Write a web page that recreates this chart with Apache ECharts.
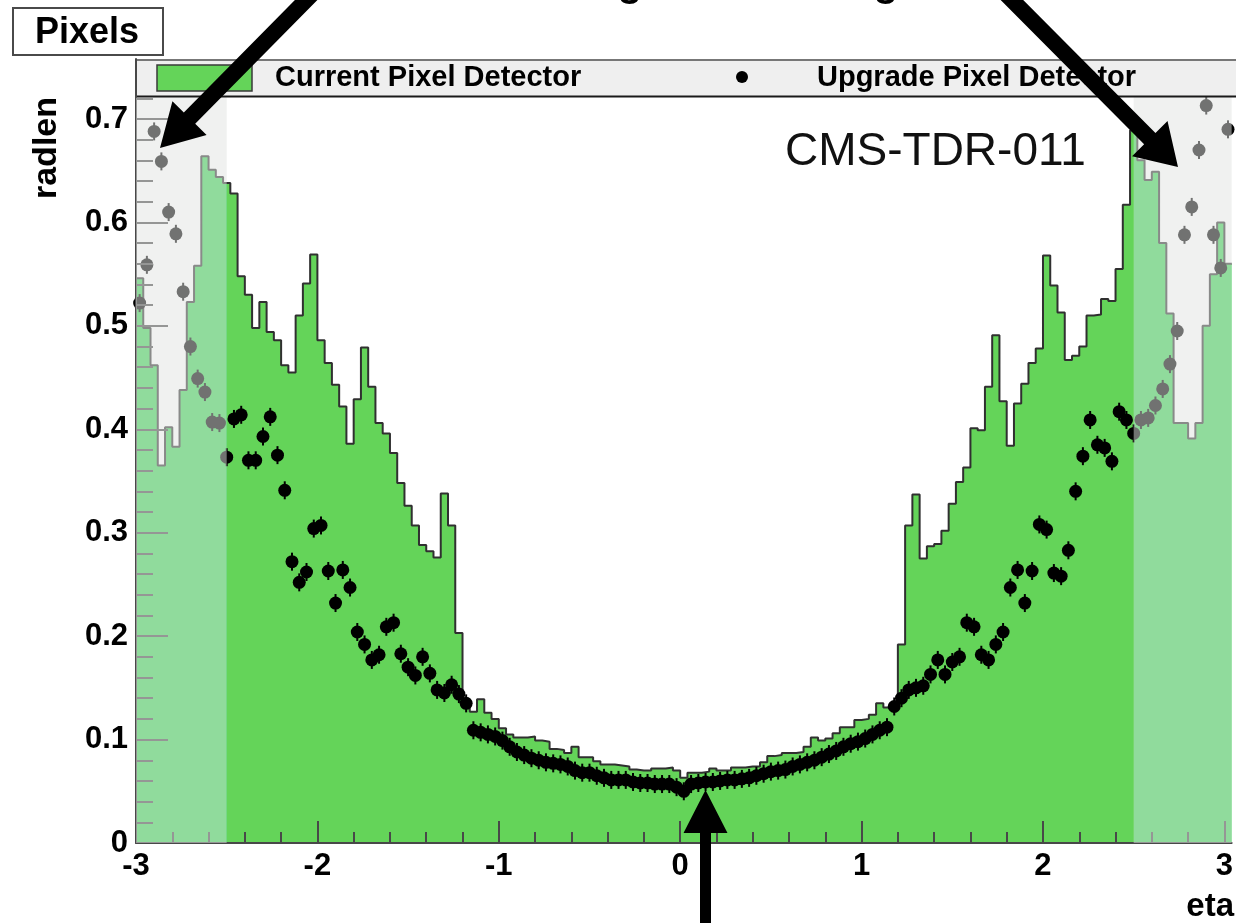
<!DOCTYPE html>
<html>
<head>
<meta charset="utf-8">
<script src="https://cdn.jsdelivr.net/npm/echarts@6/dist/echarts.min.js"></script>
<style>
  html, body { margin: 0; padding: 0; background: #ffffff; }
  #chart { width: 1236px; height: 923px; }
</style>
</head>
<body>
<div id="chart"></div>
<script>
// Material budget of the pixel detector in radiation lengths, binned in eta.
const BIN_LO = -3.0;     // lower edge of the first bin
const BIN_W = 0.04;      // bin width in eta

// Current pixel detector: radiation length per eta bin
const currentRadlen = [
  0.546,0.498,0.462,0.365,0.402,0.383,0.438,0.523,0.558,0.664,
  0.651,0.644,0.638,0.628,0.548,0.530,0.498,0.523,0.494,0.486,
  0.462,0.455,0.510,0.541,0.569,0.486,0.464,0.443,0.422,0.386,
  0.429,0.479,0.441,0.406,0.396,0.377,0.348,0.326,0.307,0.288,
  0.282,0.276,0.338,0.307,0.203,0.131,0.127,0.139,0.126,0.120,
  0.111,0.105,0.102,0.102,0.103,0.099,0.098,0.091,0.090,0.087,
  0.093,0.083,0.083,0.079,0.076,0.076,0.075,0.074,0.071,0.070,
  0.070,0.072,0.072,0.073,0.070,0.063,0.068,0.068,0.069,0.072,
  0.070,0.070,0.073,0.073,0.074,0.074,0.078,0.084,0.085,0.087,
  0.087,0.088,0.093,0.102,0.099,0.101,0.106,0.112,0.112,0.119,
  0.120,0.124,0.135,0.131,0.131,0.192,0.307,0.337,0.275,0.287,
  0.289,0.302,0.328,0.349,0.363,0.401,0.399,0.441,0.491,0.427,
  0.384,0.425,0.444,0.464,0.478,0.568,0.539,0.513,0.467,0.471,
  0.480,0.510,0.511,0.526,0.524,0.555,0.617,0.689,0.660,0.641,
  0.649,0.580,0.512,0.406,0.406,0.391,0.406,0.500,0.550,0.600,
  0.560
];

// Upgrade pixel detector: radiation length per eta bin (bin centres)
const upgradeRadlen = [
  0.522,0.559,0.688,0.659,0.610,0.589,0.533,0.480,0.449,0.436,
  0.407,0.406,0.373,0.410,0.414,0.370,0.370,0.393,0.412,0.375,
  0.341,0.272,0.252,0.262,0.304,0.307,0.263,0.232,0.264,0.247,
  0.204,0.192,0.177,0.182,0.209,0.213,0.183,0.170,0.162,0.180,
  0.164,0.148,0.145,0.153,0.144,0.135,0.109,0.107,0.105,0.103,
  0.099,0.093,0.088,0.085,0.082,0.080,0.078,0.077,0.076,0.074,
  0.070,0.068,0.068,0.065,0.063,0.061,0.061,0.061,0.059,0.058,
  0.058,0.057,0.057,0.057,0.054,0.050,0.057,0.058,0.059,0.059,
  0.060,0.061,0.061,0.062,0.063,0.065,0.067,0.069,0.070,0.071,
  0.074,0.076,0.078,0.080,0.083,0.086,0.089,0.093,0.096,0.098,
  0.101,0.105,0.109,0.112,0.132,0.140,0.148,0.150,0.152,0.163,
  0.177,0.163,0.175,0.180,0.213,0.209,0.182,0.177,0.192,0.204,
  0.247,0.264,0.232,0.263,0.308,0.303,0.261,0.258,0.283,0.340,
  0.374,0.409,0.385,0.382,0.369,0.417,0.409,0.396,0.409,0.411,
  0.423,0.439,0.463,0.495,0.588,0.615,0.670,0.713,0.588,0.556,
  0.690
];

// Axis ranges and tick labels
const ETA_MIN = -3, ETA_MAX = 3.04;
const RAD_MIN = 0, RAD_MAX = 0.758;
const etaTicks = [-3, -2, -1, 0, 1, 2, 3];
const radTicks = [0, 0.1, 0.2, 0.3, 0.4, 0.5, 0.6, 0.7];

// Regions outside the coverage of the current detector (shaded)
const shadedEta = [[-3, -2.5], [2.5, 3.04]];

const FONT = "'Liberation Sans', Arial, Helvetica, sans-serif";
const GREEN = '#64d459';
const GREEN_FWD = 'rgb(62,211,86)';   // fill under the veil in the forward regions
const AXIS_COL = '#484848';

// minor tick positions between the labelled ticks
function minorTicks(lo, hi, step, majorStep) {
  const out = [];
  const n = Math.round((hi - lo) / step);
  for (let i = 0; i <= n; i++) {
    const v = +(lo + i * step).toFixed(4);
    const r = v / majorStep;
    if (Math.abs(r - Math.round(r)) > 1e-6) out.push(v);
  }
  return out;
}
const etaMinor = minorTicks(-3, 3, 0.2, 1);
const radMinor = minorTicks(0, 0.74, 0.02, 0.1);

// histogram as a step line through the bin edges
const histPoints = currentRadlen.map((v, k) => [+(BIN_LO + k * BIN_W).toFixed(4), v]);
histPoints.push([+(BIN_LO + currentRadlen.length * BIN_W).toFixed(4), currentRadlen[currentRadlen.length - 1]]);

const upgradePoints = upgradeRadlen.map((v, k) => [+(BIN_LO + (k + 0.5) * BIN_W).toFixed(4), v]);

// horizontal fill gradient: forward tint inside the shaded ranges
const span = ETA_MAX - ETA_MIN;
const fLo = (shadedEta[0][1] - ETA_MIN) / span;
const fHi = (shadedEta[1][0] - ETA_MIN) / span;
const histFill = new echarts.graphic.LinearGradient(0, 0, 1, 0, [
  { offset: 0, color: GREEN_FWD }, { offset: fLo, color: GREEN_FWD },
  { offset: fLo, color: GREEN }, { offset: fHi, color: GREEN },
  { offset: fHi, color: GREEN_FWD }, { offset: 1, color: GREEN_FWD }
]);

// filled arrow polygon from tail to tip
function arrow(tx, ty, hx, hy, shaftW, headL, headW) {
  const dx = hx - tx, dy = hy - ty;
  const len = Math.hypot(dx, dy);
  const ux = dx / len, uy = dy / len;
  const nx = -uy, ny = ux;
  const bx = hx - ux * headL, by = hy - uy * headL;
  const s = shaftW / 2, h = headW / 2;
  return {
    type: 'polygon', z: 200, silent: true,
    shape: { points: [
      [tx + nx * s, ty + ny * s], [bx + nx * s, by + ny * s], [bx + nx * h, by + ny * h],
      [hx, hy],
      [bx - nx * h, by - ny * h], [bx - nx * s, by - ny * s], [tx - nx * s, ty - ny * s]
    ] },
    style: { fill: '#000' }
  };
}

const chart = echarts.init(document.getElementById('chart'), null, { renderer: 'canvas' });

const axisFont = { fontFamily: FONT, fontSize: 31, fontWeight: 'bold', color: '#000' };

chart.setOption({
  animation: false,
  backgroundColor: '#ffffff',
  grid: { left: 136, right: 0, top: 59, bottom: 80, containLabel: false },
  xAxis: [
    {
      type: 'value', min: ETA_MIN, max: ETA_MAX, z: 5,
      axisLine: { show: true, onZero: false, lineStyle: { color: AXIS_COL, width: 2 } },
      axisTick: { show: true, inside: true, length: 22, customValues: etaTicks, lineStyle: { color: AXIS_COL, width: 2 } },
      axisLabel: Object.assign({ customValues: etaTicks, margin: 8 }, axisFont),
      splitLine: { show: false }
    },
    {
      type: 'value', min: ETA_MIN, max: ETA_MAX, position: 'bottom', z: 5,
      axisLine: { show: false, onZero: false },
      axisTick: { show: true, inside: true, length: 11, customValues: etaMinor, lineStyle: { color: AXIS_COL, width: 2 } },
      axisLabel: { show: false },
      splitLine: { show: false }
    }
  ],
  yAxis: [
    {
      type: 'value', min: RAD_MIN, max: RAD_MAX, z: 5,
      axisLine: { show: true, onZero: false, lineStyle: { color: AXIS_COL, width: 2 } },
      axisTick: { show: true, inside: true, length: 32, customValues: radTicks, lineStyle: { color: AXIS_COL, width: 2 } },
      axisLabel: Object.assign({ customValues: radTicks, margin: 8 }, axisFont),
      splitLine: { show: false }
    },
    {
      type: 'value', min: RAD_MIN, max: RAD_MAX, position: 'left', z: 5,
      axisLine: { show: false, onZero: false },
      axisTick: { show: true, inside: true, length: 17, customValues: radMinor, lineStyle: { color: AXIS_COL, width: 2 } },
      axisLabel: { show: false },
      splitLine: { show: false }
    }
  ],
  series: [
    {
      name: 'Current Pixel Detector',
      type: 'line', step: 'end', data: histPoints,
      xAxisIndex: 0, yAxisIndex: 0, z: 2,
      symbol: 'none',
      lineStyle: { color: '#303030', width: 2 },
      areaStyle: { color: histFill, opacity: 1, origin: 'start' },
      silent: true
    },
    {
      name: 'Upgrade Pixel Detector',
      type: 'custom', data: upgradePoints, z: 3,
      xAxisIndex: 0, yAxisIndex: 0,
      renderItem: function (params, api) {
        const p = api.coord([api.value(0), api.value(1)]);
        return {
          type: 'group',
          children: [
            { type: 'line', shape: { x1: p[0], y1: p[1] - 9, x2: p[0], y2: p[1] + 9 },
              style: { stroke: '#000', lineWidth: 2 } },
            { type: 'circle', shape: { cx: p[0], cy: p[1], r: 6.5 }, style: { fill: '#000' } }
          ]
        };
      },
      silent: true
    },
    {
      // translucent veil over the forward regions, drawn above data and ticks
      name: 'shade',
      type: 'custom', z: 8, silent: true,
      xAxisIndex: 0, yAxisIndex: 0,
      data: shadedEta,
      clip: true,
      renderItem: function (params, api) {
        const a = api.coord([api.value(0), RAD_MAX]);
        const b = api.coord([api.value(1), RAD_MIN]);
        return {
          type: 'rect',
          shape: { x: a[0], y: a[1], width: b[0] - a[0], height: b[1] - a[1] },
          style: { fill: 'rgba(226,228,226,0.5)' }
        };
      }
    }
  ],
  graphic: [
    // legend strip across the top of the frame
    { type: 'rect', z: 100, silent: true, shape: { x: 136, y: 59, width: 1110, height: 38 },
      style: { fill: '#efefef', stroke: null } },
    { type: 'line', z: 101, silent: true, shape: { x1: 136, y1: 60, x2: 1240, y2: 60 },
      style: { stroke: '#777', lineWidth: 2 } },
    { type: 'line', z: 101, silent: true, shape: { x1: 136, y1: 96.5, x2: 1240, y2: 96.5 },
      style: { stroke: '#1a1a1a', lineWidth: 2 } },
    { type: 'line', z: 101, silent: true, shape: { x1: 136, y1: 59, x2: 136, y2: 97 },
      style: { stroke: AXIS_COL, lineWidth: 2 } },
    { type: 'rect', z: 102, silent: true, shape: { x: 157, y: 65, width: 95, height: 26 },
      style: { fill: GREEN, stroke: '#3a3a3a', lineWidth: 1.5 } },
    { type: 'text', z: 102, silent: true,
      style: { text: 'Current Pixel Detector', x: 275, y: 78, fontFamily: FONT, fontSize: 29, fontWeight: 'bold',
               fill: '#000', align: 'left', verticalAlign: 'middle' } },
    { type: 'circle', z: 102, silent: true, shape: { cx: 742, cy: 77, r: 6 }, style: { fill: '#000' } },
    { type: 'text', z: 102, silent: true,
      style: { text: 'Upgrade Pixel Detector', x: 817, y: 78, fontFamily: FONT, fontSize: 29, fontWeight: 'bold',
               fill: '#000', align: 'left', verticalAlign: 'middle' } },

    // subsystem label box
    { type: 'rect', z: 100, silent: true, shape: { x: 13, y: 8, width: 150, height: 47 },
      style: { fill: '#fff', stroke: '#4a4a4a', lineWidth: 2 } },
    { type: 'text', z: 101, silent: true,
      style: { text: 'Pixels', x: 87, y: 33, fontFamily: FONT, fontSize: 36, fontWeight: 'bold',
               fill: '#000', align: 'center', verticalAlign: 'middle' } },

    // axis titles
    { type: 'text', z: 100, silent: true, x: 47, y: 97, rotation: Math.PI / 2,
      style: { text: 'radlen', x: 0, y: 0, fontFamily: FONT, fontSize: 34, fontWeight: 'bold',
               fill: '#000', align: 'right', verticalAlign: 'middle' } },
    { type: 'text', z: 100, silent: true,
      style: { text: 'eta', x: 1234, y: 907, fontFamily: FONT, fontSize: 33, fontWeight: 'bold',
               fill: '#000', align: 'right', verticalAlign: 'middle' } },

    // document reference
    { type: 'text', z: 100, silent: true,
      style: { text: 'CMS-TDR-011', x: 785, y: 152, fontFamily: FONT, fontSize: 46, fontWeight: 'normal',
               fill: '#111', align: 'left', verticalAlign: 'middle' } },

    // heading above the plot, running off the top edge
    { type: 'text', z: 100, silent: true,
      style: { text: 'g', x: 630, y: 5, fontFamily: FONT, fontSize: 40, fontWeight: 'bold',
               fill: '#000', align: 'center', verticalAlign: 'bottom' } },
    { type: 'text', z: 100, silent: true,
      style: { text: 'g', x: 886, y: 5, fontFamily: FONT, fontSize: 40, fontWeight: 'bold',
               fill: '#000', align: 'center', verticalAlign: 'bottom' } },

    // arrows pointing at the forward regions and at the central minimum
    arrow(318, -12, 160, 148, 16, 42, 48),
    arrow(1000, -12, 1178, 167, 16, 40, 50),
    arrow(705.5, 940, 705.5, 790, 11, 43, 44)
  ]
});
</script>
</body>
</html>
